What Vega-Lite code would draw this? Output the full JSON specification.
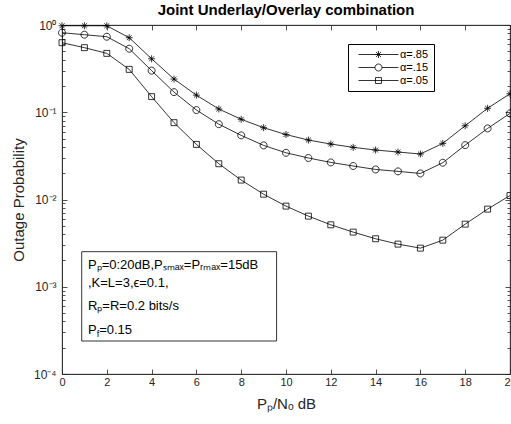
{
  "$schema": "https://vega.github.io/schema/vega-lite/v6.json",
  "width": 448,
  "height": 349,
  "autosize": {"type": "none"},
  "padding": {"left": 62, "top": 25, "right": 1, "bottom": 50},
  "background": "white",
  "title": {"text": "Joint Underlay/Overlay combination", "fontSize": 15, "fontWeight": "bold", "font": "Liberation Sans", "color": "black", "anchor": "middle", "offset": 1},
  "config": {
    "view": {"stroke": "#262626", "strokeWidth": 0.8},
    "font": "Liberation Sans",
    "axis": {"grid": false, "domainColor": "#262626", "tickColor": "#262626", "labelColor": "#262626", "titleColor": "#262626", "labelFont": "Liberation Sans", "titleFont": "Liberation Sans", "labelFontSize": 11, "titleFontSize": 15, "titleFontWeight": "normal", "tickWidth": 0.8, "domainWidth": 0.8, "labelFlush": false, "labelOverlap": false}
  },
  "data": {"values": [
    {"x": 0, "p": 0.98, "s": "a85"}, {"x": 1, "p": 0.98, "s": "a85"}, {"x": 2, "p": 0.98, "s": "a85"}, {"x": 3, "p": 0.715, "s": "a85"}, {"x": 4, "p": 0.41, "s": "a85"}, {"x": 5, "p": 0.24, "s": "a85"}, {"x": 6, "p": 0.157, "s": "a85"}, {"x": 7, "p": 0.109, "s": "a85"}, {"x": 8, "p": 0.083, "s": "a85"}, {"x": 9, "p": 0.0665, "s": "a85"}, {"x": 10, "p": 0.0555, "s": "a85"}, {"x": 11, "p": 0.048, "s": "a85"}, {"x": 12, "p": 0.0432, "s": "a85"}, {"x": 13, "p": 0.0396, "s": "a85"}, {"x": 14, "p": 0.0369, "s": "a85"}, {"x": 15, "p": 0.035, "s": "a85"}, {"x": 16, "p": 0.0332, "s": "a85"}, {"x": 17, "p": 0.044, "s": "a85"}, {"x": 18, "p": 0.07, "s": "a85"}, {"x": 19, "p": 0.111, "s": "a85"}, {"x": 20, "p": 0.163, "s": "a85"},
    {"x": 0, "p": 0.816, "s": "a15"}, {"x": 1, "p": 0.774, "s": "a15"}, {"x": 2, "p": 0.734, "s": "a15"}, {"x": 3, "p": 0.535, "s": "a15"}, {"x": 4, "p": 0.3, "s": "a15"}, {"x": 5, "p": 0.17, "s": "a15"}, {"x": 6, "p": 0.106, "s": "a15"}, {"x": 7, "p": 0.073, "s": "a15"}, {"x": 8, "p": 0.0543, "s": "a15"}, {"x": 9, "p": 0.0417, "s": "a15"}, {"x": 10, "p": 0.0343, "s": "a15"}, {"x": 11, "p": 0.0299, "s": "a15"}, {"x": 12, "p": 0.0266, "s": "a15"}, {"x": 13, "p": 0.0242, "s": "a15"}, {"x": 14, "p": 0.0221, "s": "a15"}, {"x": 15, "p": 0.021, "s": "a15"}, {"x": 16, "p": 0.0199, "s": "a15"}, {"x": 17, "p": 0.0264, "s": "a15"}, {"x": 18, "p": 0.042, "s": "a15"}, {"x": 19, "p": 0.0653, "s": "a15"}, {"x": 20, "p": 0.097, "s": "a15"},
    {"x": 0, "p": 0.627, "s": "a05"}, {"x": 1, "p": 0.55, "s": "a05"}, {"x": 2, "p": 0.473, "s": "a05"}, {"x": 3, "p": 0.31, "s": "a05"}, {"x": 4, "p": 0.151, "s": "a05"}, {"x": 5, "p": 0.076, "s": "a05"}, {"x": 6, "p": 0.0428, "s": "a05"}, {"x": 7, "p": 0.0257, "s": "a05"}, {"x": 8, "p": 0.0167, "s": "a05"}, {"x": 9, "p": 0.0115, "s": "a05"}, {"x": 10, "p": 0.0084, "s": "a05"}, {"x": 11, "p": 0.00645, "s": "a05"}, {"x": 12, "p": 0.00513, "s": "a05"}, {"x": 13, "p": 0.00423, "s": "a05"}, {"x": 14, "p": 0.00355, "s": "a05"}, {"x": 15, "p": 0.00308, "s": "a05"}, {"x": 16, "p": 0.00277, "s": "a05"}, {"x": 17, "p": 0.00342, "s": "a05"}, {"x": 18, "p": 0.00522, "s": "a05"}, {"x": 19, "p": 0.00776, "s": "a05"}, {"x": 20, "p": 0.0111, "s": "a05"}
  ]},
  "layer": [
    {
      "mark": {"type": "line", "stroke": "black", "strokeWidth": 0.8, "clip": true},
      "encoding": {
        "x": {"field": "x", "type": "quantitative", "scale": {"domain": [0, 20], "nice": false, "zero": false},
          "axis": {"orient": "bottom", "values": [0, 2, 4, 6, 8, 10, 12, 14, 16, 18, 20], "tickSize": -5, "labelPadding": 7, "title": "Pₚ/Nₒ dB", "titlePadding": 9}},
        "y": {"field": "p", "type": "quantitative", "scale": {"type": "log", "domain": [0.0001, 1], "nice": false},
          "axis": {"orient": "left", "values": [0.0001, 0.0002, 0.0003, 0.0004, 0.0005, 0.0006, 0.0007, 0.0008, 0.0009, 0.001, 0.002, 0.003, 0.004, 0.005, 0.006, 0.007, 0.008, 0.009, 0.01, 0.02, 0.03, 0.04, 0.05, 0.06, 0.07, 0.08, 0.09, 0.1, 0.2, 0.3, 0.4, 0.5, 0.6, 0.7, 0.8, 0.9, 1],
            "labelExpr": "abs(log(datum.value)/LN10 - round(log(datum.value)/LN10)) > 0.001 ? '' : ['10⁻⁴','10⁻³','10⁻²','10⁻¹','10⁰'][round(log(datum.value)/LN10) + 4]",
            "tickSize": {"condition": {"test": "abs(log(datum.value)/LN10 - round(log(datum.value)/LN10)) > 0.001", "value": -3}, "value": -5},
            "labelPadding": 11, "labelFontSize": 12, "title": "Outage Probability", "titlePadding": 7}},
        "detail": {"field": "s", "type": "nominal"}
      }
    },
    {
      "mark": {"type": "point", "filled": false, "stroke": "black", "strokeWidth": 0.8, "size": 49, "opacity": 1, "clip": false},
      "encoding": {
        "x": {"field": "x", "type": "quantitative", "scale": {"domain": [0, 20], "nice": false, "zero": false},
          "axis": {"orient": "top", "values": [0, 2, 4, 6, 8, 10, 12, 14, 16, 18, 20], "tickSize": -5, "labels": false, "title": null}},
        "y": {"field": "p", "type": "quantitative", "scale": {"type": "log", "domain": [0.0001, 1], "nice": false},
          "axis": {"orient": "right", "values": [0.0001, 0.0002, 0.0003, 0.0004, 0.0005, 0.0006, 0.0007, 0.0008, 0.0009, 0.001, 0.002, 0.003, 0.004, 0.005, 0.006, 0.007, 0.008, 0.009, 0.01, 0.02, 0.03, 0.04, 0.05, 0.06, 0.07, 0.08, 0.09, 0.1, 0.2, 0.3, 0.4, 0.5, 0.6, 0.7, 0.8, 0.9, 1],
            "tickSize": {"condition": {"test": "abs(log(datum.value)/LN10 - round(log(datum.value)/LN10)) > 0.001", "value": -3}, "value": -5},
            "labels": false, "title": null}},
        "shape": {"field": "s", "type": "nominal",
          "scale": {"domain": ["a85", "a15", "a05"], "range": ["M-1,0L1,0M0,-1L0,1M-0.7,-0.7L0.7,0.7M-0.7,0.7L0.7,-0.7", "M1,0A1,1,0,1,1,-1,0A1,1,0,1,1,1,0Z", "M-0.85,-0.85L0.85,-0.85L0.85,0.85L-0.85,0.85Z"]},
          "legend": null
        }
      }
    },
    {
      "mark": {"type": "point", "filled": false, "stroke": "black", "strokeWidth": 0.8, "size": 49, "opacity": 0, "clip": false},
      "encoding": {
        "x": {"field": "x", "type": "quantitative", "scale": {"domain": [0, 20], "nice": false, "zero": false}, "axis": null},
        "y": {"field": "p", "type": "quantitative", "scale": {"type": "log", "domain": [0.0001, 1], "nice": false}, "axis": null},
        "shape": {"field": "s", "type": "nominal",
          "scale": {"domain": ["a85", "a15", "a05"], "range": [
            "M0,0L11.43,0M5.71,-1L5.71,1M4.71,0L6.71,0M5.01,-0.7L6.41,0.7M5.01,0.7L6.41,-0.7",
            "M0,0L4.71,0M6.71,0L11.43,0M6.71,0A1,1,0,1,1,4.71,0A1,1,0,1,1,6.71,0Z",
            "M0,0L11.43,0M4.86,-0.85L6.56,-0.85L6.56,0.85L4.86,0.85Z"]},
          "legend": {"title": null, "orient": "none", "legendX": 286, "legendY": 19, "strokeColor": "black", "fillColor": "white", "padding": 5, "cornerRadius": 0,
            "symbolSize": 49, "symbolOpacity": 1, "symbolStrokeColor": "black", "symbolFillColor": "transparent", "symbolStrokeWidth": 0.8,
            "labelFontSize": 11, "labelFont": "Liberation Sans", "labelColor": "black", "labelOffset": 36, "rowPadding": 1,
            "labelExpr": "datum.value == 'a85' ? 'α=.85' : datum.value == 'a15' ? 'α=.15' : 'α=.05'",
            "encode": {"symbols": {"update": {"opacity": {"value": 1}, "fill": {"value": "transparent"}, "stroke": {"value": "black"}}}}
          }
        }
      }
    },
    {
      "data": {"values": [{}]},
      "mark": {"type": "rect", "fill": "white", "stroke": "black", "strokeWidth": 0.8},
      "encoding": {
        "x": {"datum": 0.88, "type": "quantitative", "scale": {"domain": [0, 20], "nice": false, "zero": false}, "axis": null},
        "x2": {"datum": 9.58},
        "y": {"datum": 0.002523, "type": "quantitative", "scale": {"type": "log", "domain": [0.0001, 1], "nice": false}, "axis": null},
        "y2": {"datum": 0.0002389}
      }
    },
    {
      "data": {"values": [{}]},
      "mark": {"type": "text", "text": "Pₚ=0:20dB,Pₛₘₐₓ=Pᵣₘₐₓ=15dB", "align": "left", "baseline": "alphabetic", "fontSize": 13, "font": "Liberation Sans", "color": "black"},
      "encoding": {
        "x": {"datum": 1.16, "type": "quantitative", "scale": {"domain": [0, 20], "nice": false, "zero": false}, "axis": null},
        "y": {"datum": 0.001585, "type": "quantitative", "scale": {"type": "log", "domain": [0.0001, 1], "nice": false}, "axis": null}
      }
    },
    {
      "data": {"values": [{}]},
      "mark": {"type": "text", "text": ",K=L=3,ϵ=0.1,", "align": "left", "baseline": "alphabetic", "fontSize": 13, "font": "Liberation Sans", "color": "black"},
      "encoding": {
        "x": {"datum": 1.16, "type": "quantitative", "scale": {"domain": [0, 20], "nice": false, "zero": false}, "axis": null},
        "y": {"datum": 0.000986, "type": "quantitative", "scale": {"type": "log", "domain": [0.0001, 1], "nice": false}, "axis": null}
      }
    },
    {
      "data": {"values": [{}]},
      "mark": {"type": "text", "text": "Rₚ=R=0.2 bits/s", "align": "left", "baseline": "alphabetic", "fontSize": 13, "font": "Liberation Sans", "color": "black"},
      "encoding": {
        "x": {"datum": 1.16, "type": "quantitative", "scale": {"domain": [0, 20], "nice": false, "zero": false}, "axis": null},
        "y": {"datum": 0.000542, "type": "quantitative", "scale": {"type": "log", "domain": [0.0001, 1], "nice": false}, "axis": null}
      }
    },
    {
      "data": {"values": [{}]},
      "mark": {"type": "text", "text": "P", "align": "left", "baseline": "alphabetic", "fontSize": 13, "font": "Liberation Sans", "color": "black"},
      "encoding": {
        "x": {"datum": 1.16, "type": "quantitative", "scale": {"domain": [0, 20], "nice": false, "zero": false}, "axis": null},
        "y": {"datum": 0.000285, "type": "quantitative", "scale": {"type": "log", "domain": [0.0001, 1], "nice": false}, "axis": null}
      }
    },
    {
      "data": {"values": [{}]},
      "mark": {"type": "text", "text": "f", "align": "left", "baseline": "alphabetic", "fontSize": 9, "font": "Liberation Sans", "color": "black", "dx": 8.7, "dy": 3},
      "encoding": {
        "x": {"datum": 1.16, "type": "quantitative", "scale": {"domain": [0, 20], "nice": false, "zero": false}, "axis": null},
        "y": {"datum": 0.000285, "type": "quantitative", "scale": {"type": "log", "domain": [0.0001, 1], "nice": false}, "axis": null}
      }
    },
    {
      "data": {"values": [{}]},
      "mark": {"type": "text", "text": "=0.15", "align": "left", "baseline": "alphabetic", "fontSize": 13, "font": "Liberation Sans", "color": "black", "dx": 11.2},
      "encoding": {
        "x": {"datum": 1.16, "type": "quantitative", "scale": {"domain": [0, 20], "nice": false, "zero": false}, "axis": null},
        "y": {"datum": 0.000285, "type": "quantitative", "scale": {"type": "log", "domain": [0.0001, 1], "nice": false}, "axis": null}
      }
    }
  ],
  "resolve": {"axis": {"x": "independent", "y": "independent"}, "scale": {"shape": "independent"}}
}
